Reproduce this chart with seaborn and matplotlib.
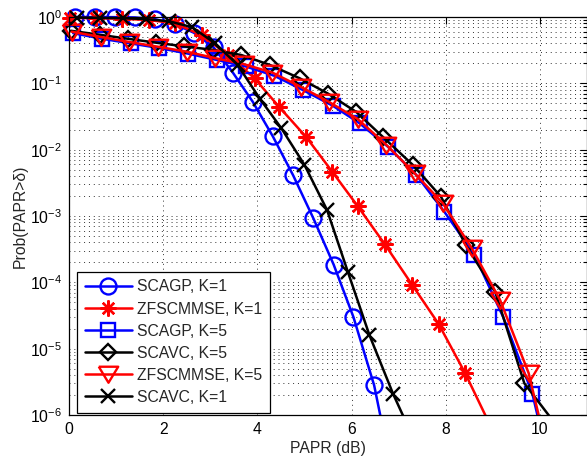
import matplotlib
matplotlib.use("Agg")
import matplotlib.pyplot as plt
import pandas as pd
import seaborn as sns
from matplotlib.transforms import Bbox, TransformedBbox
from matplotlib.lines import Line2D

# CCDF of PAPR for each precoding scheme (x: PAPR threshold in dB)
scagp_k1_x = [0.13, 0.55, 0.97, 1.40, 1.82, 2.25, 2.65, 3.07, 3.48, 3.90, 4.33, 4.76, 5.19, 5.62, 6.04, 6.48, 6.91]
scagp_k1_y = [0.999, 0.998, 0.995, 0.985, 0.93, 0.78, 0.58, 0.35, 0.145, 0.053, 0.0158, 0.0041, 9.2e-4, 1.85e-4, 3.0e-5, 2.8e-6, 9e-8]

zf_k1_x = [0.02, 0.57, 1.13, 1.70, 2.26, 2.82, 3.38, 3.94, 4.47, 5.04, 5.59, 6.13, 6.70, 7.29, 7.85, 8.41, 8.97]
zf_k1_y = [0.97, 0.96, 0.94, 0.90, 0.80, 0.53, 0.267, 0.119, 0.0435, 0.0154, 4.65e-3, 1.41e-3, 3.8e-4, 9.1e-5, 2.35e-5, 4.3e-6, 6.4e-7]

scagp_k5_x = [0.09, 0.70, 1.31, 1.92, 2.53, 3.14, 3.75, 4.36, 4.97, 5.60, 6.17, 6.77, 7.37, 7.97, 8.61, 9.22, 9.84, 10.45]
scagp_k5_y = [0.57, 0.47, 0.40, 0.34, 0.28, 0.225, 0.18, 0.13, 0.079, 0.046, 0.025, 0.0111, 0.0042, 0.00116, 2.6e-4, 3.0e-5, 2.1e-6, 3e-8]

scavc_k5_x = [0.04, 0.65, 1.25, 1.85, 2.45, 3.06, 3.66, 4.26, 4.90, 5.50, 6.10, 6.66, 7.30, 7.90, 8.43, 9.05, 9.67, 10.35]
scavc_k5_y = [0.62, 0.54, 0.47, 0.41, 0.36, 0.32, 0.267, 0.19, 0.119, 0.07, 0.037, 0.0157, 5.9e-3, 1.95e-3, 3.6e-4, 7.2e-5, 3.0e-6, 7e-7]

zf_k5_x = [0.06, 0.67, 1.28, 1.89, 2.50, 3.10, 3.71, 4.32, 4.93, 5.53, 6.13, 6.74, 7.34, 7.94, 8.55, 9.15, 9.76, 10.36]
zf_k5_y = [0.60, 0.50, 0.42, 0.356, 0.30, 0.24, 0.195, 0.145, 0.088, 0.052, 0.029, 0.0118, 0.0044, 0.00155, 3.3e-4, 5.5e-5, 4.3e-6, 7e-8]

scavc_k1_x = [0.17, 0.66, 1.15, 1.64, 2.13, 2.62, 3.10, 3.58, 4.05, 4.51, 5.00, 5.48, 5.92, 6.38, 6.88, 7.35]
scavc_k1_y = [0.98, 0.97, 0.96, 0.93, 0.86, 0.70, 0.40, 0.19, 0.059, 0.021, 5.9e-3, 1.23e-3, 1.45e-4, 1.6e-5, 2.1e-6, 3.9e-7]

labels = ["SCAGP, K=1", "ZFSCMMSE, K=1", "SCAGP, K=5", "SCAVC, K=5", "ZFSCMMSE, K=5", "SCAVC, K=1"]
x_ticks = [0, 2, 4, 6, 8, 10]

sns.set_style("white")
plt.rcParams["font.family"] = ["Liberation Sans", "DejaVu Sans"]
plt.rcParams["mathtext.fontset"] = "custom"
plt.rcParams["mathtext.rm"] = "Liberation Sans"
plt.rcParams["mathtext.it"] = "Liberation Sans:italic"
plt.rcParams["mathtext.default"] = "regular"

FS = 11.3
W, H = 587, 458
fig = plt.figure(figsize=(W / 100, H / 100), dpi=100)
ax = fig.add_axes([69 / W, 43 / H, 518 / W, 398 / H])

asterisk = (8, 2, 0)
tri_down = [(-1.0, 0.8), (1.0, 0.8), (0.0, -0.85), (-1.0, 0.8)]

series = [
    (labels[0], scagp_k1_x, scagp_k1_y, "#0000ff", "o", 11.5),
    (labels[1], zf_k1_x, zf_k1_y, "#ff0000", asterisk, 11.5),
    (labels[2], scagp_k5_x, scagp_k5_y, "#0000ff", "s", 9.5),
    (labels[3], scavc_k5_x, scavc_k5_y, "#000000", "D", 8.5),
    (labels[4], zf_k5_x, zf_k5_y, "#ff0000", tri_down, 14),
    (labels[5], scavc_k1_x, scavc_k1_y, "#000000", "x", 9.5),
]

# markers may poke above the top edge and left of the y axis, but not below
clip = TransformedBbox(Bbox.from_extents(-0.05, 0.0, 1.0, 1.1), ax.transAxes)

handles = []
for label, xs, ys, color, marker, ms in series:
    df = pd.DataFrame({"PAPR": xs, "CCDF": ys})
    sns.lineplot(data=df, x="PAPR", y="CCDF", ax=ax, sort=False, color=color,
                 marker=marker, markersize=ms, markerfacecolor="none",
                 markeredgecolor=color, markeredgewidth=1.7, linewidth=1.8,
                 legend=False)
    line = ax.lines[-1]
    line.set_clip_box(clip)
    handles.append(Line2D([], [], color=color, marker=marker, markersize=ms,
                          markerfacecolor="none", markeredgecolor=color,
                          markeredgewidth=1.7, linewidth=1.8))

ax.set_yscale("log")
ax.set_ylim(1e-6, 1)
ax.set_xlim(0, 11)
ax.set_xticks(x_ticks)
ax.set_xticklabels([str(t) for t in x_ticks])
ax.minorticks_off()
ax.yaxis.set_minor_locator(matplotlib.ticker.LogLocator(base=10, subs=range(2, 10), numticks=20))
ax.yaxis.set_minor_formatter(matplotlib.ticker.NullFormatter())

# sparse dotted grid, major on both axes and minor decades on y
dots = (0, (1, 4))
ax.set_axisbelow(True)
ax.grid(True, which="major", axis="both", linestyle=dots, color="0.2", linewidth=0.7)
ax.grid(True, which="minor", axis="y", linestyle=dots, color="0.2", linewidth=0.7)

for sp in ax.spines.values():
    sp.set_visible(True)
    sp.set_color("black")
    sp.set_linewidth(0.9)

ax.tick_params(which="both", direction="in", top=True, right=True, colors="black",
               labelsize=FS, width=0.8)
ax.tick_params(which="major", length=5, pad=5)
ax.tick_params(which="minor", length=3)

ax.set_xlabel("PAPR (dB)", fontsize=FS, labelpad=3)
ax.set_ylabel("Prob(PAPR>δ)", fontsize=FS, labelpad=2)

leg = ax.legend(handles, labels, loc="lower left", bbox_to_anchor=(0.015, 0.006),
                borderaxespad=0, fontsize=FS, frameon=True, fancybox=False,
                framealpha=1, edgecolor="black", handlelength=3.0,
                handletextpad=0.35, labelspacing=0.45, borderpad=0.5, numpoints=1)
leg.get_frame().set_linewidth(0.9)

fig.savefig("out.png", dpi=100)
